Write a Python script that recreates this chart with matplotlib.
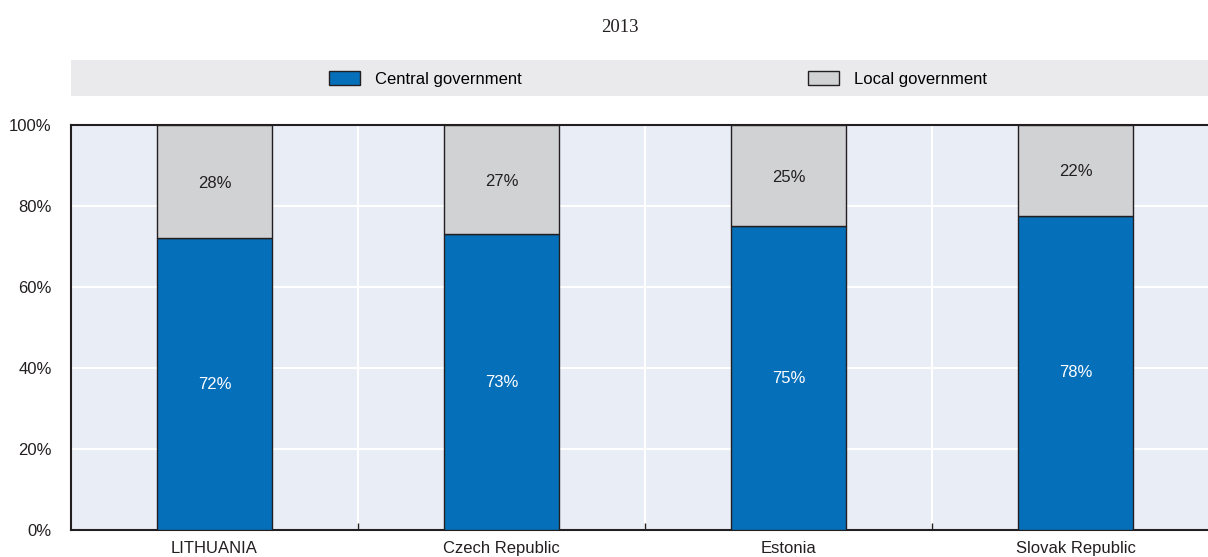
import matplotlib
matplotlib.use("Agg")
import matplotlib.pyplot as plt
from matplotlib.patches import Rectangle, Patch

plt.rcParams['font.family'] = ["Liberation Sans", 'DejaVu Sans']

countries = ["LITHUANIA", "Czech Republic", "Estonia", "Slovak Republic"]
central = [72, 73, 75, 77.6]
local = [28, 27, 25, 22.4]
central_labels = ["72%", "73%", "75%", "78%"]
local_labels = ["28%", "27%", "25%", "22%"]
yticks = [0, 20, 40, 60, 80, 100]
title = "2013"

BLUE = "#066FBA"
GREY = "#D1D2D4"
BG = "#E9EDF6"
DARK = "#231F20"

W, H = 1208, 557
fig = plt.figure(figsize=(W/100, H/100), dpi=100)
ax = fig.add_axes([71/W, (H-530)/H, (1219-71)/W, (530-125)/H])
ax.set_facecolor(BG)

x = list(range(len(countries)))
ax.bar(x, central, width=0.4, color=BLUE, edgecolor=DARK, linewidth=1.0, zorder=3)
ax.bar(x, local, width=0.4, bottom=central, color=GREY, edgecolor=DARK, linewidth=1.0, zorder=3)
for i in x:
    ax.text(i, central[i]/2, central_labels[i], ha="center", va="center", color="white", fontsize=12, zorder=4)
    ax.text(i, central[i] + local[i]/2, local_labels[i], ha="center", va="center_baseline",
            color=DARK, fontsize=12, zorder=4)

ax.set_xlim(-0.5, 3.5)
ax.set_ylim(0, 100)
ax.set_yticks(yticks)
ax.set_yticklabels([f"{v}%" for v in yticks], fontsize=12, color=DARK)
ax.set_xticks(x)
ax.set_xticklabels(countries, fontsize=12, color=DARK)
ax.tick_params(axis="y", which="major", length=0, pad=14)
ax.tick_params(axis="x", which="major", length=0, pad=8)
ax.set_xticks([0.5, 1.5, 2.5], minor=True)
ax.tick_params(axis="x", which="minor", direction="in", length=5, width=1, color=DARK)
ax.grid(True, axis="y", color="white", linewidth=1.5, zorder=0)
ax.grid(True, axis="x", which="minor", color="white", linewidth=1.5, zorder=0)
ax.set_axisbelow(True)
for s in ["left", "bottom", "top"]:
    ax.spines[s].set_color(DARK)
    ax.spines[s].set_linewidth(1.5)
ax.spines["right"].set_visible(False)

# legend band
fig.patches.append(Rectangle((71/W, (H-96)/H), (W-71)/W, 36/H, transform=fig.transFigure,
                             facecolor="#EAEAEC", edgecolor="none", zorder=0))
handles = [Patch(facecolor=BLUE, edgecolor=DARK, linewidth=1.0, label="Central government"),
           Patch(facecolor=GREY, edgecolor=DARK, linewidth=1.0, label="Local government")]
fig.legend(handles=handles, loc="center", bbox_to_anchor=(658/W, (H-79)/H), ncol=2, frameon=False,
           fontsize=12, handlelength=1.86, handleheight=0.95, handletextpad=0.9, columnspacing=17.2)

fig.text(620/W, (H-27)/H, title, ha="center", va="center", fontsize=13.5, family="Liberation Serif", color=DARK)

fig.savefig("out.png", dpi=100)
